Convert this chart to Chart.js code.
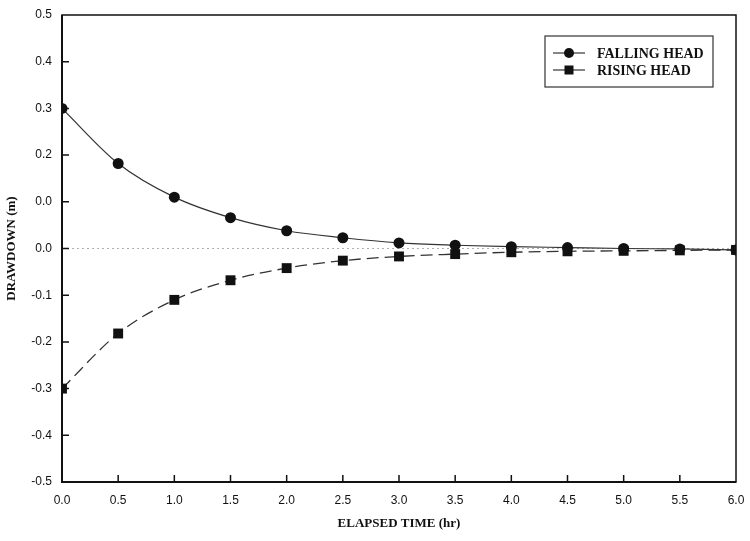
<!DOCTYPE html>
<html>
<head>
<meta charset="utf-8">
<script src="https://cdn.jsdelivr.net/npm/chart.js@4.4.1/dist/chart.umd.min.js"></script>
<style>
  html, body { margin: 0; padding: 0; background: #fff; }
  #wrap { width: 750px; height: 541px; }
</style>
</head>
<body>
<div id="wrap"><canvas id="chart" width="750" height="541"></canvas></div>
<script>
// data
const elapsedTime = [0.0, 0.5, 1.0, 1.5, 2.0, 2.5, 3.0, 3.5, 4.0, 4.5, 5.0, 5.5, 6.0];
const fallingHead = [0.300, 0.182, 0.110, 0.066, 0.038, 0.023, 0.012, 0.007, 0.004, 0.002, 0.000, -0.001, -0.003];
const risingHead = [-0.300, -0.182, -0.110, -0.068, -0.042, -0.026, -0.017, -0.012, -0.008, -0.006, -0.005, -0.004, -0.003];
// y tick labels bottom to top, as printed (the 0.1 tick is printed "0.0")
const yTickLabels = ['-0.5', '-0.4', '-0.3', '-0.2', '-0.1', '0.0', '0.0', '0.2', '0.3', '0.4', '0.5'];

const labelFont = { family: 'Liberation Sans, Arial, sans-serif', size: 12 };
const titleFont = { family: 'Liberation Serif, Times New Roman, serif', size: 13, weight: 'bold' };

function toPoints(ys) {
    return elapsedTime.map((x, i) => ({ x: x, y: ys[i] }));
}

// frame, inward ticks, dotted zero line and boxed legend
const framePlugin = {
    id: 'frame',
    beforeDatasetsDraw(chart) {
        const ctx = chart.ctx;
        const xs = chart.scales.x;
        const ys = chart.scales.y;
        const y0 = ys.getPixelForValue(0);
        ctx.save();
        ctx.strokeStyle = '#b0b0b0';
        ctx.lineWidth = 1;
        ctx.setLineDash([2, 3]);
        ctx.beginPath();
        ctx.moveTo(xs.getPixelForValue(0), y0);
        ctx.lineTo(xs.getPixelForValue(6), y0);
        ctx.stroke();
        ctx.restore();
    },
    afterDraw(chart) {
        const ctx = chart.ctx;
        const a = chart.chartArea;
        const xs = chart.scales.x;
        const ys = chart.scales.y;
        ctx.save();
        ctx.strokeStyle = '#111';
        ctx.lineWidth = 1.5;
        ctx.strokeRect(a.left, a.top, a.right - a.left, a.bottom - a.top);
        ctx.lineWidth = 2;
        ctx.beginPath();
        ctx.moveTo(a.left, a.top);
        ctx.lineTo(a.left, a.bottom);
        ctx.lineTo(a.right, a.bottom);
        ctx.stroke();

        ctx.lineWidth = 1.5;
        ctx.beginPath();
        xs.ticks.forEach(t => {
            if (t.value <= 0 || t.value >= 6) return;
            const px = xs.getPixelForValue(t.value);
            ctx.moveTo(px, a.bottom);
            ctx.lineTo(px, a.bottom - 7);
        });
        ys.ticks.forEach(t => {
            if (t.value <= -0.5 || t.value >= 0.5) return;
            const py = ys.getPixelForValue(t.value);
            ctx.moveTo(a.left, py);
            ctx.lineTo(a.left + 7, py);
        });
        ctx.stroke();

        // legend box
        const bx = 545, by = 36, bw = 168, bh = 51;
        ctx.lineWidth = 1.2;
        ctx.strokeStyle = '#333';
        ctx.strokeRect(bx, by, bw, bh);
        chart.data.datasets.forEach((ds, i) => {
            const ly = by + 17 + i * 17;
            ctx.strokeStyle = ds.borderColor;
            ctx.lineWidth = 1.2;
            ctx.setLineDash([]);
            ctx.beginPath();
            ctx.moveTo(bx + 8, ly);
            ctx.lineTo(bx + 40, ly);
            ctx.stroke();
            ctx.fillStyle = '#111';
            if (ds.pointStyle === 'rect') {
                ctx.fillRect(bx + 24 - 4.5, ly - 4.5, 9, 9);
            } else {
                ctx.beginPath();
                ctx.arc(bx + 24, ly, 5, 0, Math.PI * 2);
                ctx.fill();
            }
            ctx.font = 'bold 14px Liberation Serif, Times New Roman, serif';
            ctx.textBaseline = 'middle';
            ctx.fillText(ds.label, bx + 52, ly + 1);
        });
        ctx.restore();
    }
};

const ctx = document.getElementById('chart').getContext('2d');
const chart = new Chart(ctx, {
    type: 'line',
    data: {
        datasets: [{
            label: 'FALLING HEAD',
            data: toPoints(fallingHead),
            borderColor: '#333',
            borderWidth: 1.2,
            pointStyle: 'circle',
            pointRadius: 5.5,
            pointBackgroundColor: '#111',
            pointBorderColor: '#111',
            pointBorderWidth: 0,
            cubicInterpolationMode: 'monotone',
            fill: false
        }, {
            label: 'RISING HEAD',
            data: toPoints(risingHead),
            borderColor: '#333',
            borderWidth: 1.3,
            borderDash: [12, 6],
            pointStyle: 'rect',
            pointRadius: 7,
            pointBackgroundColor: '#111',
            pointBorderColor: '#111',
            pointBorderWidth: 0,
            cubicInterpolationMode: 'monotone',
            fill: false
        }]
    },
    options: {
        responsive: false,
        animation: false,
        devicePixelRatio: 1,
        layout: { padding: { left: 0, right: 14, top: 15, bottom: 0 } },
        plugins: {
            legend: { display: false },
            tooltip: { enabled: false }
        },
        scales: {
            x: {
                type: 'linear',
                min: 0,
                max: 6,
                afterFit: s => { s.height = 59; },
                grid: { display: false },
                border: { display: false },
                ticks: {
                    stepSize: 0.5,
                    padding: 3,
                    color: '#111',
                    font: labelFont,
                    maxRotation: 0,
                    callback: v => v.toFixed(1)
                },
                title: {
                    display: true,
                    text: 'ELAPSED TIME (hr)',
                    color: '#111',
                    font: titleFont,
                    padding: { top: 0, bottom: 10 }
                }
            },
            y: {
                type: 'linear',
                min: -0.5,
                max: 0.5,
                afterFit: s => { s.width = 62; },
                grid: { display: false },
                border: { display: false },
                ticks: {
                    stepSize: 0.1,
                    padding: 2,
                    color: '#111',
                    font: labelFont,
                    callback: (v, i) => yTickLabels[i]
                },
                title: {
                    display: true,
                    text: 'DRAWDOWN (m)',
                    color: '#111',
                    font: titleFont,
                    padding: { top: 4, bottom: 0 }
                }
            }
        }
    },
    plugins: [framePlugin]
});
</script>
</body>
</html>
